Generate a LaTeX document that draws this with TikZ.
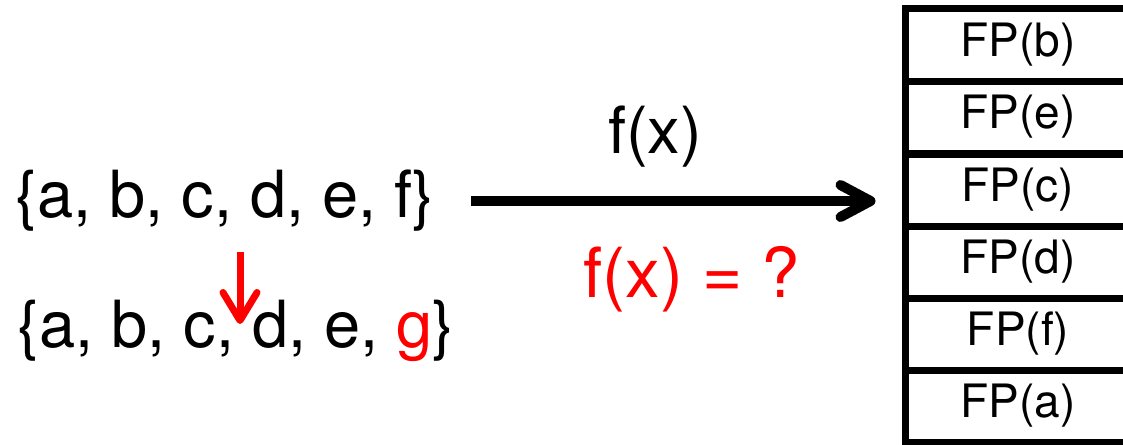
\documentclass[tikz,border=0pt]{standalone}
\usepackage{fontspec}
\setmainfont{TeX Gyre Heros}
\usetikzlibrary{arrows.meta}
\definecolor{pred}{RGB}{255,0,0}
\tikzset{
  bigtext/.style={font=\fontsize{65}{72}\selectfont, inner sep=0pt},
  fptext/.style={font=\fontsize{46}{52}\selectfont},
  row/.style={draw=black, line width=7pt, minimum width=226pt, minimum height=72pt, inner sep=0pt, fptext},
  bigarrow/.style={line width=10pt, -{Straight Barb[length=30pt,width=32pt,round]}},
  redarrow/.style={draw=pred, line width=7pt, -{Straight Barb[length=28pt,width=34pt,round]}}
}
\begin{document}
\begin{tikzpicture}[x=1pt,y=-1pt]
\useasboundingbox (0,0) rectangle (1123,444);
\clip (0,0) rectangle (1123,444);
% stack of fingerprints
\node[row] (r1) at (1018,45) {FP(b)};
\node[row] (r2) at (1018,117) {FP(e)};
\node[row] (r3) at (1018,190) {FP(c)};
\node[row] (r4) at (1018,262) {FP(d)};
\node[row] (r5) at (1018,334) {FP(f)};
\node[row] (r6) at (1018,406) {FP(a)};
% sets
\node[bigtext] (s1) at (225,201) {\{a, b, c, d, e, f\}};
\node[bigtext] (s2) at (236,331) {\{a, b, c, d, e, \textcolor{pred}{g}\}};
% labels
\node[bigtext] (fx) at (655,137) {f(x)};
\node[bigtext, font=\fontsize{69}{76}\selectfont, text=pred] (fq) at (692,279) {f(x) = ?};
% arrows
\draw[bigarrow, shorten <=36pt, shorten >=26pt] (s1.east) -- (s1.east -| r3.west);
\coordinate (rtop) at (240,252);
\coordinate (rbot) at (240,324);
\draw[redarrow] (rtop) -- (rbot);
\end{tikzpicture}
\end{document}
